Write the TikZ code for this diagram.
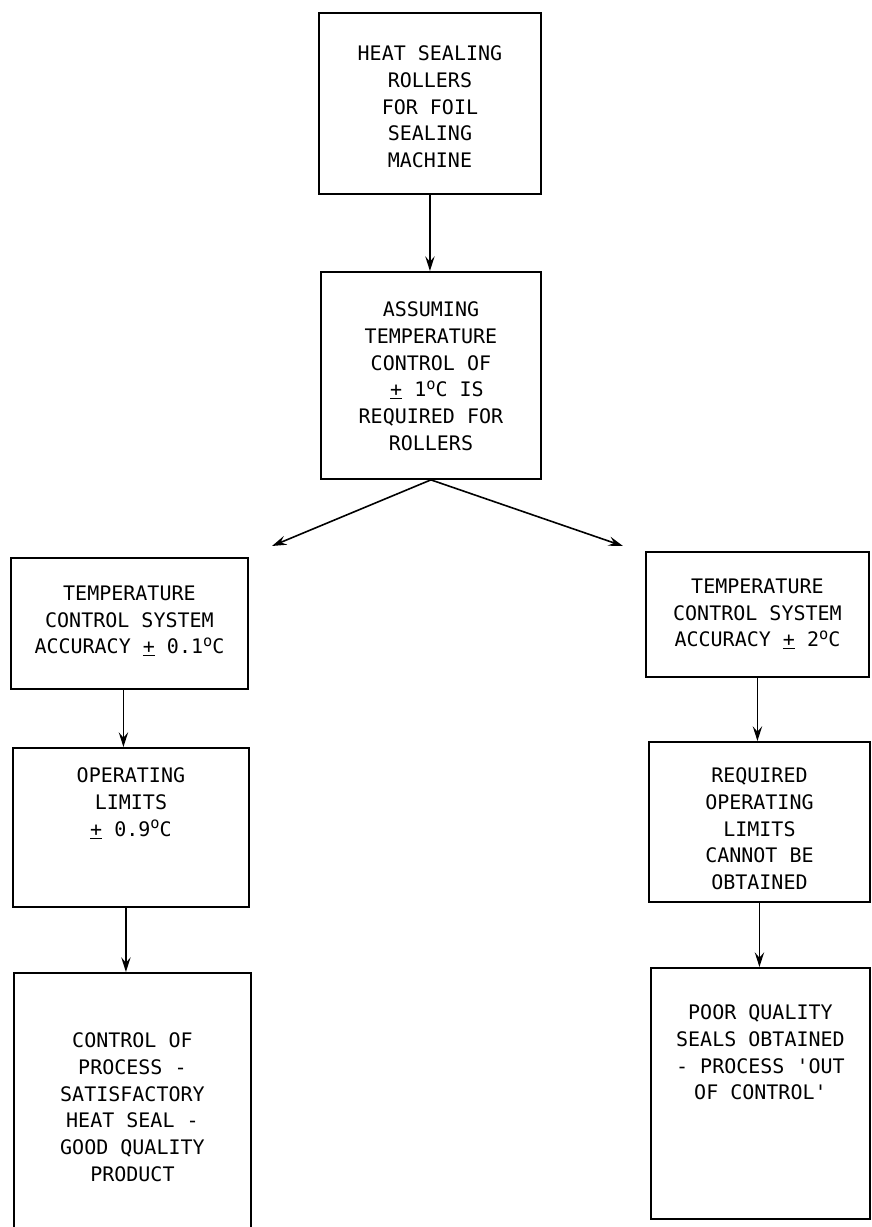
\documentclass[tikz,border=0pt]{standalone}
\usepackage{fontspec}
\newfontfamily\plotfont[Ligatures=TeXOff]{DejaVu Sans Mono}
\usetikzlibrary{arrows.meta}

% one drawing unit = one pixel of the sheet
\newdimen\unitpx \unitpx=0.75pt
\newcommand\degC{\raisebox{5.4pt}{\fontsize{11.5pt}{11.5pt}\selectfont o}C}
\newcommand\pmbar{\underline{+}}

% \card{name}{x1}{y1}{x2}{y2}{top pad}{text}
\newcommand\card[7]{%
  \node[card] (#1) at (#2,#3) {\begin{minipage}[c][\dimexpr\unitpx*(#5-#3)\relax][t]{\dimexpr\unitpx*(#4-#2)\relax}%
    \centering\vspace*{\dimexpr\unitpx*#6\relax}#7\end{minipage}};}

\tikzset{
  card/.style={draw, line width=1.4pt, inner sep=0pt, anchor=north west,
    font=\plotfont\fontsize{15pt}{20pt}\selectfont},
  arr/.style={line width=1.2pt, -{Stealth[length=11pt,width=7pt,inset=4pt]}},
}

\begin{document}
\begin{tikzpicture}[x=0.75pt,y=-0.75pt]
  \path[use as bounding box] (0,0) rectangle (871,1227);
  \clip (0,0) rectangle (871,1227);

  \card{top}{318}{12}{540}{193}{33}{HEAT SEALING\\ROLLERS\\FOR FOIL\\SEALING\\MACHINE}
  \card{assume}{320}{271}{540}{478}{30}{ASSUMING\\TEMPERATURE\\CONTROL OF\\\hspace*{0.6em}\pmbar{} 1\degC{} IS\\REQUIRED FOR\\ROLLERS}

  \card{accA}{10}{557}{247}{688}{28}{TEMPERATURE\\CONTROL SYSTEM\\ACCURACY \pmbar{} 0.1\degC}
  \card{limA}{12}{747}{248}{906}{20}{OPERATING\\LIMITS\\\pmbar{} 0.9\degC}
  \card{resA}{13}{972}{250}{1240}{60}{CONTROL OF\\PROCESS -\\SATISFACTORY\\HEAT SEAL -\\GOOD QUALITY\\PRODUCT}

  \card{accB}{645}{551}{868}{676}{27}{TEMPERATURE\\CONTROL SYSTEM\\ACCURACY \pmbar{} 2\degC}
  \card{limB}{648}{741}{869}{901}{26}{REQUIRED\\OPERATING\\LIMITS\\CANNOT BE\\OBTAINED}
  \card{resB}{650}{967}{869}{1218}{37}{POOR QUALITY\\SEALS OBTAINED\\- PROCESS 'OUT\\OF CONTROL'}

  \coordinate (forkL) at (272,546);
  \coordinate (forkR) at (623,546);

  \draw[arr] (top.south) -- (top.south |- assume.north);
  \draw[arr] (assume.south) -- (forkL);
  \draw[arr] (assume.south) -- (forkR);
  \draw[arr] ([xshift=-4.5pt]accA.south) -- ([xshift=-4.5pt]accA.south |- limA.north);
  \draw[arr] ([xshift=-3.75pt]limA.south) -- ([xshift=-3.75pt]limA.south |- resA.north);
  \draw[arr] (accB.south) -- (accB.south |- limB.north);
  \draw[arr] (limB.south) -- (limB.south |- resB.north);
\end{tikzpicture}
\end{document}
